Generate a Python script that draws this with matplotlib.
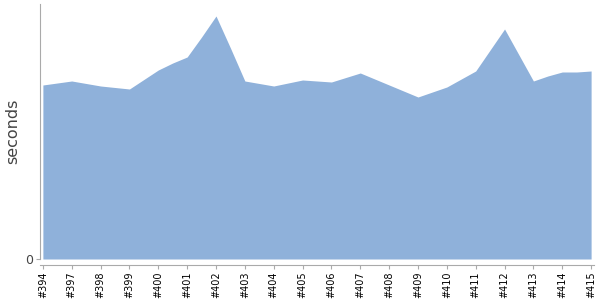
import matplotlib
matplotlib.use("Agg")
import matplotlib.pyplot as plt
import numpy as np

labels = ["#394", "#397", "#398", "#399", "#400", "#401", "#402", "#403", "#404", "#405",
          "#406", "#407", "#408", "#409", "#410", "#411", "#412", "#413", "#414", "#415"]
# values at each labelled build and halfway between them
values = [174, 176, 178, 175.5, 173, 171.5, 170, 179.5, 189, 196, 202, 222, 243, 211, 178,
          175.5, 173, 176, 179, 178, 177, 181.5, 186, 180, 174, 168, 162, 167, 172, 180,
          188, 209, 230, 204, 178, 183, 187, 187, 188]

x = np.arange(len(values)) / 2.0

fig = plt.figure(figsize=(6, 3), dpi=100)
ax = fig.add_axes([40/600, 1-259/300, 554/600, 255/300])
for s in ["top", "right"]:
    ax.spines[s].set_visible(False)
ax.spines["left"].set_color("#aaaaaa")
ax.spines["bottom"].set_color("#aaaaaa")
ax.spines["bottom"].set_position(("outward", 4))

ax.fill_between(x, values, 0, color="#8fb1da", linewidth=0)
ax.set_xlim(-0.1, len(labels) - 1 + 0.1)
ax.set_ylim(0, 255)
ax.set_yticks([0])
ax.set_yticklabels(["0"], color="#444444", fontsize=9)
ax.set_xticks(np.arange(len(labels)))
ax.set_xticklabels(labels, fontsize=7, rotation=90)
ax.tick_params(axis="x", length=3, color="#aaaaaa", pad=2)
ax.tick_params(axis="y", length=3, color="#aaaaaa", pad=2)
ax.set_ylabel("seconds", fontsize=11.5, color="#444444", va="center")
ax.yaxis.set_label_coords(-27/554, 0.5)
fig.savefig("out.png", dpi=100)
